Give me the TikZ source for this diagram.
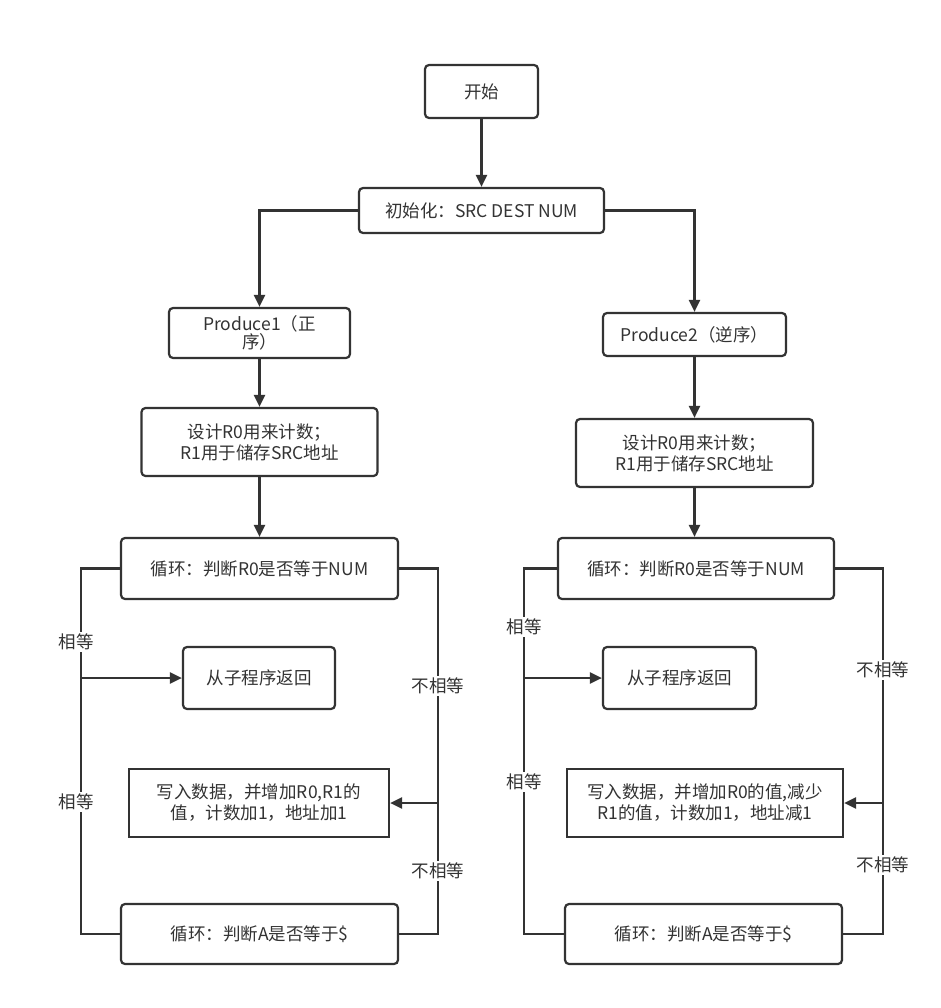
\documentclass[tikz,border=0pt]{standalone}
\usepackage{fontspec}
\setmainfont{Noto Sans CJK SC}
\usetikzlibrary{arrows.meta}
\definecolor{ink}{HTML}{333333}
\tikzset{
  base/.style={draw=ink, line width=2.2pt, text=ink, inner sep=2pt, align=center,
    font=\fontsize{17.5}{21}\selectfont},
  rbox/.style={base, rounded corners=4pt},
  sbox/.style={base},
  conn/.style={draw=ink, line width=2.2pt},
  arr/.style={conn, -{Triangle[length=12pt,width=11pt]}},
  lbl/.style={fill=white, text=ink, inner sep=2pt, font=\fontsize{17.5}{21}\selectfont},
}
\begin{document}
\begin{tikzpicture}[x=1pt,y=-1pt]
\useasboundingbox[fill=white] (0,0) rectangle (940,1008);
% nodes
\node[rbox, minimum width=113, minimum height=53] (start) at (481.5,91.5) {开始};
\node[rbox, minimum width=245, minimum height=45] (init) at (481.5,210.5) {初始化：SRC DEST NUM};
\node[rbox, minimum width=181, minimum height=50] (p1) at (259.5,333) {Produce1（正\\[-3pt]序）};
\node[rbox, minimum width=183, minimum height=43] (p2) at (694.5,334.5) {Produce2（逆序）};
\node[rbox, minimum width=236, minimum height=68] (r0a) at (259.5,442) {设计R0用来计数；\\R1用于储存SRC地址};
\node[rbox, minimum width=237, minimum height=68] (r0b) at (694.5,453) {设计R0用来计数；\\R1用于储存SRC地址};
\node[rbox, minimum width=277, minimum height=61] (loopa) at (259.5,568.5) {循环：判断R0是否等于NUM};
\node[rbox, minimum width=276, minimum height=61] (loopb) at (696,568.5) {循环：判断R0是否等于NUM};
\node[rbox, minimum width=152, minimum height=62] (reta) at (259,678) {从子程序返回};
\node[rbox, minimum width=153, minimum height=62] (retb) at (679.5,678) {从子程序返回};
\node[sbox, minimum width=260, minimum height=68] (wra) at (259,803) {写入数据，并增加R0,R1的\\值，计数加1，地址加1};
\node[sbox, minimum width=276, minimum height=68] (wrb) at (705,803) {写入数据，并增加R0的值,减少\\R1的值，计数加1，地址减1};
\node[rbox, minimum width=277, minimum height=60] (enda) at (259.5,934) {循环：判断A是否等于\$};
\node[rbox, minimum width=277, minimum height=60] (endb) at (703.5,934) {循环：判断A是否等于\$};
% coordinates
\coordinate (la1) at (81,568.5);
\coordinate (la2) at (81,934);
\coordinate (lab) at (81,678);
\coordinate (ra1) at (438,568.5);
\coordinate (ra2) at (438,934);
\coordinate (rab) at (438,803);
\coordinate (lb1) at (524,568.5);
\coordinate (lb2) at (524,934);
\coordinate (lbb) at (524,678);
\coordinate (rb1) at (883,568.5);
\coordinate (rb2) at (883,934);
\coordinate (rbb) at (883,803);
% connectors
\draw[arr] (start) -- (init);
\draw[arr] (init.west) -| (p1.north);
\draw[arr] (init.east) -| (p2.north);
\draw[arr] (p1) -- (r0a);
\draw[arr] (p2) -- (r0b);
\draw[arr] (r0a) -- (loopa);
\draw[arr] (r0b.south) -- (r0b.south |- loopb.north);
\draw[conn] (loopa.west) -- (la1) -- (la2) -- (enda.west);
\draw[conn] (loopa.east) -- (ra1) -- (ra2) -- (enda.east);
\draw[arr] (lab) -- (reta.west);
\draw[arr] (rab) -- (wra.east);
\draw[conn] (loopb.west) -- (lb1) -- (lb2) -- (endb.west);
\draw[conn] (loopb.east) -- (rb1) -- (rb2) -- (endb.east);
\draw[arr] (lbb) -- (retb.west);
\draw[arr] (rbb) -- (wrb.east);
% labels
\node[lbl] (l1) at (76,642) {相等};
\node[lbl] (l2) at (76,802) {相等};
\node[lbl] (l3) at (438,686) {不相等};
\node[lbl] (l4) at (438,871) {不相等};
\node[lbl] (l5) at (524,627) {相等};
\node[lbl] (l6) at (524,782) {相等};
\node[lbl] (l7) at (883,670) {不相等};
\node[lbl] (l8) at (883,865) {不相等};
\end{tikzpicture}
\end{document}
